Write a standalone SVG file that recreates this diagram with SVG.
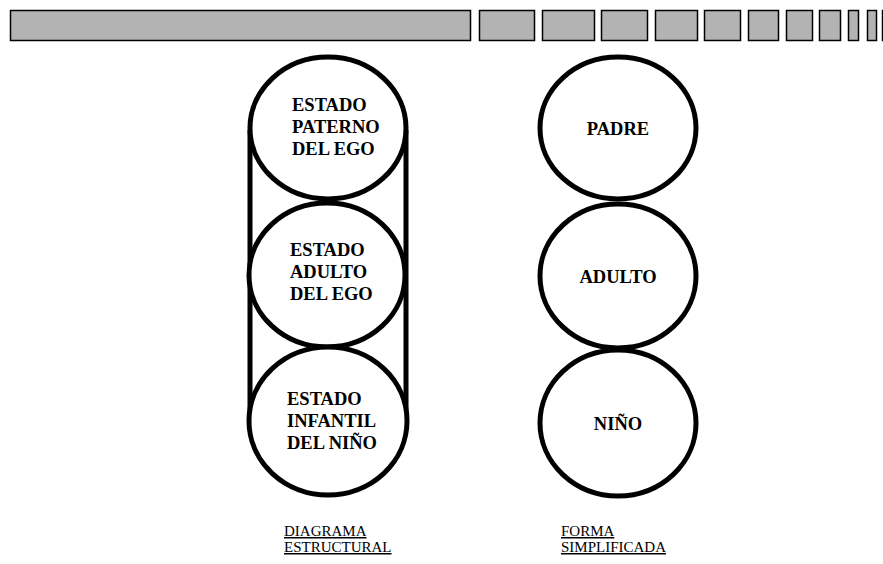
<svg xmlns="http://www.w3.org/2000/svg" width="883" height="564" viewBox="0 0 883 564">
<style>
.bar{fill:#b3b3b3;stroke:#000;stroke-width:1.5}
.c{fill:#fff;stroke:#000;stroke-width:5}
.t{font-family:"Liberation Serif","Times New Roman",serif;font-weight:bold;font-size:18.5px;fill:#000}
.l{font-family:"Liberation Serif","Times New Roman",serif;font-size:15px;fill:#000;text-decoration:underline}
.ln{stroke:#000;stroke-width:5}
</style>
<rect width="883" height="564" fill="#fff"/>
<g id="bar">
<rect class="bar" x="10.5" y="10.5" width="460" height="30"/>
<rect class="bar" x="479.5" y="10.5" width="55" height="30"/>
<rect class="bar" x="542.5" y="10.5" width="52" height="30"/>
<rect class="bar" x="601.5" y="10.5" width="46" height="30"/>
<rect class="bar" x="655.5" y="10.5" width="42" height="30"/>
<rect class="bar" x="704.5" y="10.5" width="36" height="30"/>
<rect class="bar" x="748.5" y="10.5" width="30" height="30"/>
<rect class="bar" x="786.5" y="10.5" width="26" height="30"/>
<rect class="bar" x="819.5" y="10.5" width="21" height="30"/>
<rect class="bar" x="848.5" y="10.5" width="10" height="30"/>
<rect class="bar" x="867.5" y="10.5" width="9" height="30"/>
<rect class="bar" x="882.5" y="10.5" width="6" height="30"/>
</g>
<g id="connectors">
<line class="ln" x1="250" y1="130" x2="250" y2="422"/>
<line class="ln" x1="406" y1="130" x2="406" y2="422"/>
</g>
<g id="paterno">
<ellipse class="c" cx="328" cy="128" rx="78" ry="71"/>
<text class="t" x="292" y="111">ESTADO</text>
<text class="t" x="292" y="133">PATERNO</text>
<text class="t" x="292" y="155">DEL EGO</text>
</g>
<g id="adulto-ego">
<ellipse class="c" cx="327" cy="275" rx="78" ry="72"/>
<text class="t" x="290" y="256">ESTADO</text>
<text class="t" x="290" y="278">ADULTO</text>
<text class="t" x="290" y="300">DEL EGO</text>
</g>
<g id="infantil">
<ellipse class="c" cx="328" cy="421" rx="79" ry="74"/>
<text class="t" x="287" y="405">ESTADO</text>
<text class="t" x="287" y="427">INFANTIL</text>
<text class="t" x="287" y="449">DEL NIÑO</text>
</g>
<g id="padre">
<ellipse class="c" cx="618" cy="128" rx="78" ry="71"/>
<text class="t" x="618" y="135" text-anchor="middle">PADRE</text>
</g>
<g id="adulto">
<ellipse class="c" cx="618" cy="276" rx="78" ry="72"/>
<text class="t" x="618" y="283" text-anchor="middle">ADULTO</text>
</g>
<g id="nino">
<ellipse class="c" cx="618" cy="423" rx="78" ry="73"/>
<text class="t" x="618" y="430" text-anchor="middle">NIÑO</text>
</g>
<g id="labels">
<text class="l" x="284" y="536">DIAGRAMA</text>
<text class="l" x="284" y="552">ESTRUCTURAL</text>
<text class="l" x="561" y="536">FORMA</text>
<text class="l" x="561" y="552">SIMPLIFICADA</text>
</g>
</svg>
